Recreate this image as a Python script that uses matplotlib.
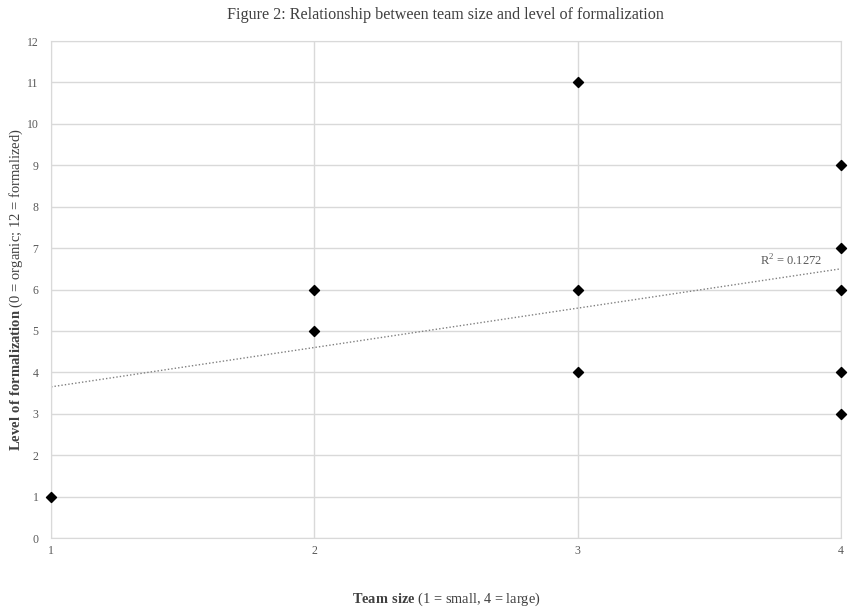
import matplotlib
matplotlib.use("Agg")
import matplotlib.pyplot as plt
import numpy as np

# data
team_size = [1, 2, 2, 3, 3, 3, 4, 4, 4, 4, 4]
formalization = [1, 6, 5, 11, 6, 4, 9, 7, 6, 4, 3]
r2_label = "R$^2$ = 0.1272"
x_ticks = [1, 2, 3, 4]
y_ticks = list(range(0, 13))

plt.rcParams["font.family"] = ["Liberation Serif", "DejaVu Serif"]
plt.rcParams["mathtext.fontset"] = "custom"
plt.rcParams["mathtext.rm"] = "Liberation Serif"
plt.rcParams["mathtext.bf"] = "Liberation Serif:bold"

fig = plt.figure(figsize=(8.51, 6.13), dpi=100)
ax = fig.add_axes([0.060, 0.1223, 0.928, 0.8108])

grid_c = "#d9d9d9"
text_c = "#595959"

ax.set_xlim(1, 4)
ax.set_ylim(0, 12)
ax.set_xticks(x_ticks)
ax.set_yticks(y_ticks)
ax.grid(True, color=grid_c, lw=1.0)
ax.set_axisbelow(True)
for s in ax.spines.values():
    s.set_color(grid_c)
ax.tick_params(axis="y", length=0, labelsize=8.5, colors=text_c, pad=9)
ax.tick_params(axis="x", length=0, labelsize=8.5, colors=text_c, pad=5)

# linear trend
coef = np.polyfit(team_size, formalization, 1)
xs = np.array([1, 4])
ax.plot(xs, np.polyval(coef, xs), color="#808080", lw=1.0, ls=(0, (1, 1.5)), zorder=2)
ax.text(3.93, np.polyval(coef, 3.93) + 0.08, r2_label, fontsize=9, color=text_c,
        ha="right", va="bottom")

ax.scatter(team_size, formalization, marker="D", s=26, color="black", zorder=3,
           clip_on=False)

fig.text(0.524, 0.975, "Figure 2: Relationship between team size and level of formalization",
         ha="center", va="center", fontsize=11.6, color="#404040")

ax.set_xlabel(r"$\bf{Team\ size}$ (1 = small, 4 = large)", fontsize=10.4, color="#404040")
ax.set_ylabel(r"$\bf{Level\ of\ formalization}$ (0 = organic; 12 = formalized)",
              fontsize=10.5, color="#404040")
ax.xaxis.set_label_coords(0.5, -0.105)
ax.yaxis.set_label_coords(-0.033, 0.5)

fig.savefig("out.png", dpi=100)
